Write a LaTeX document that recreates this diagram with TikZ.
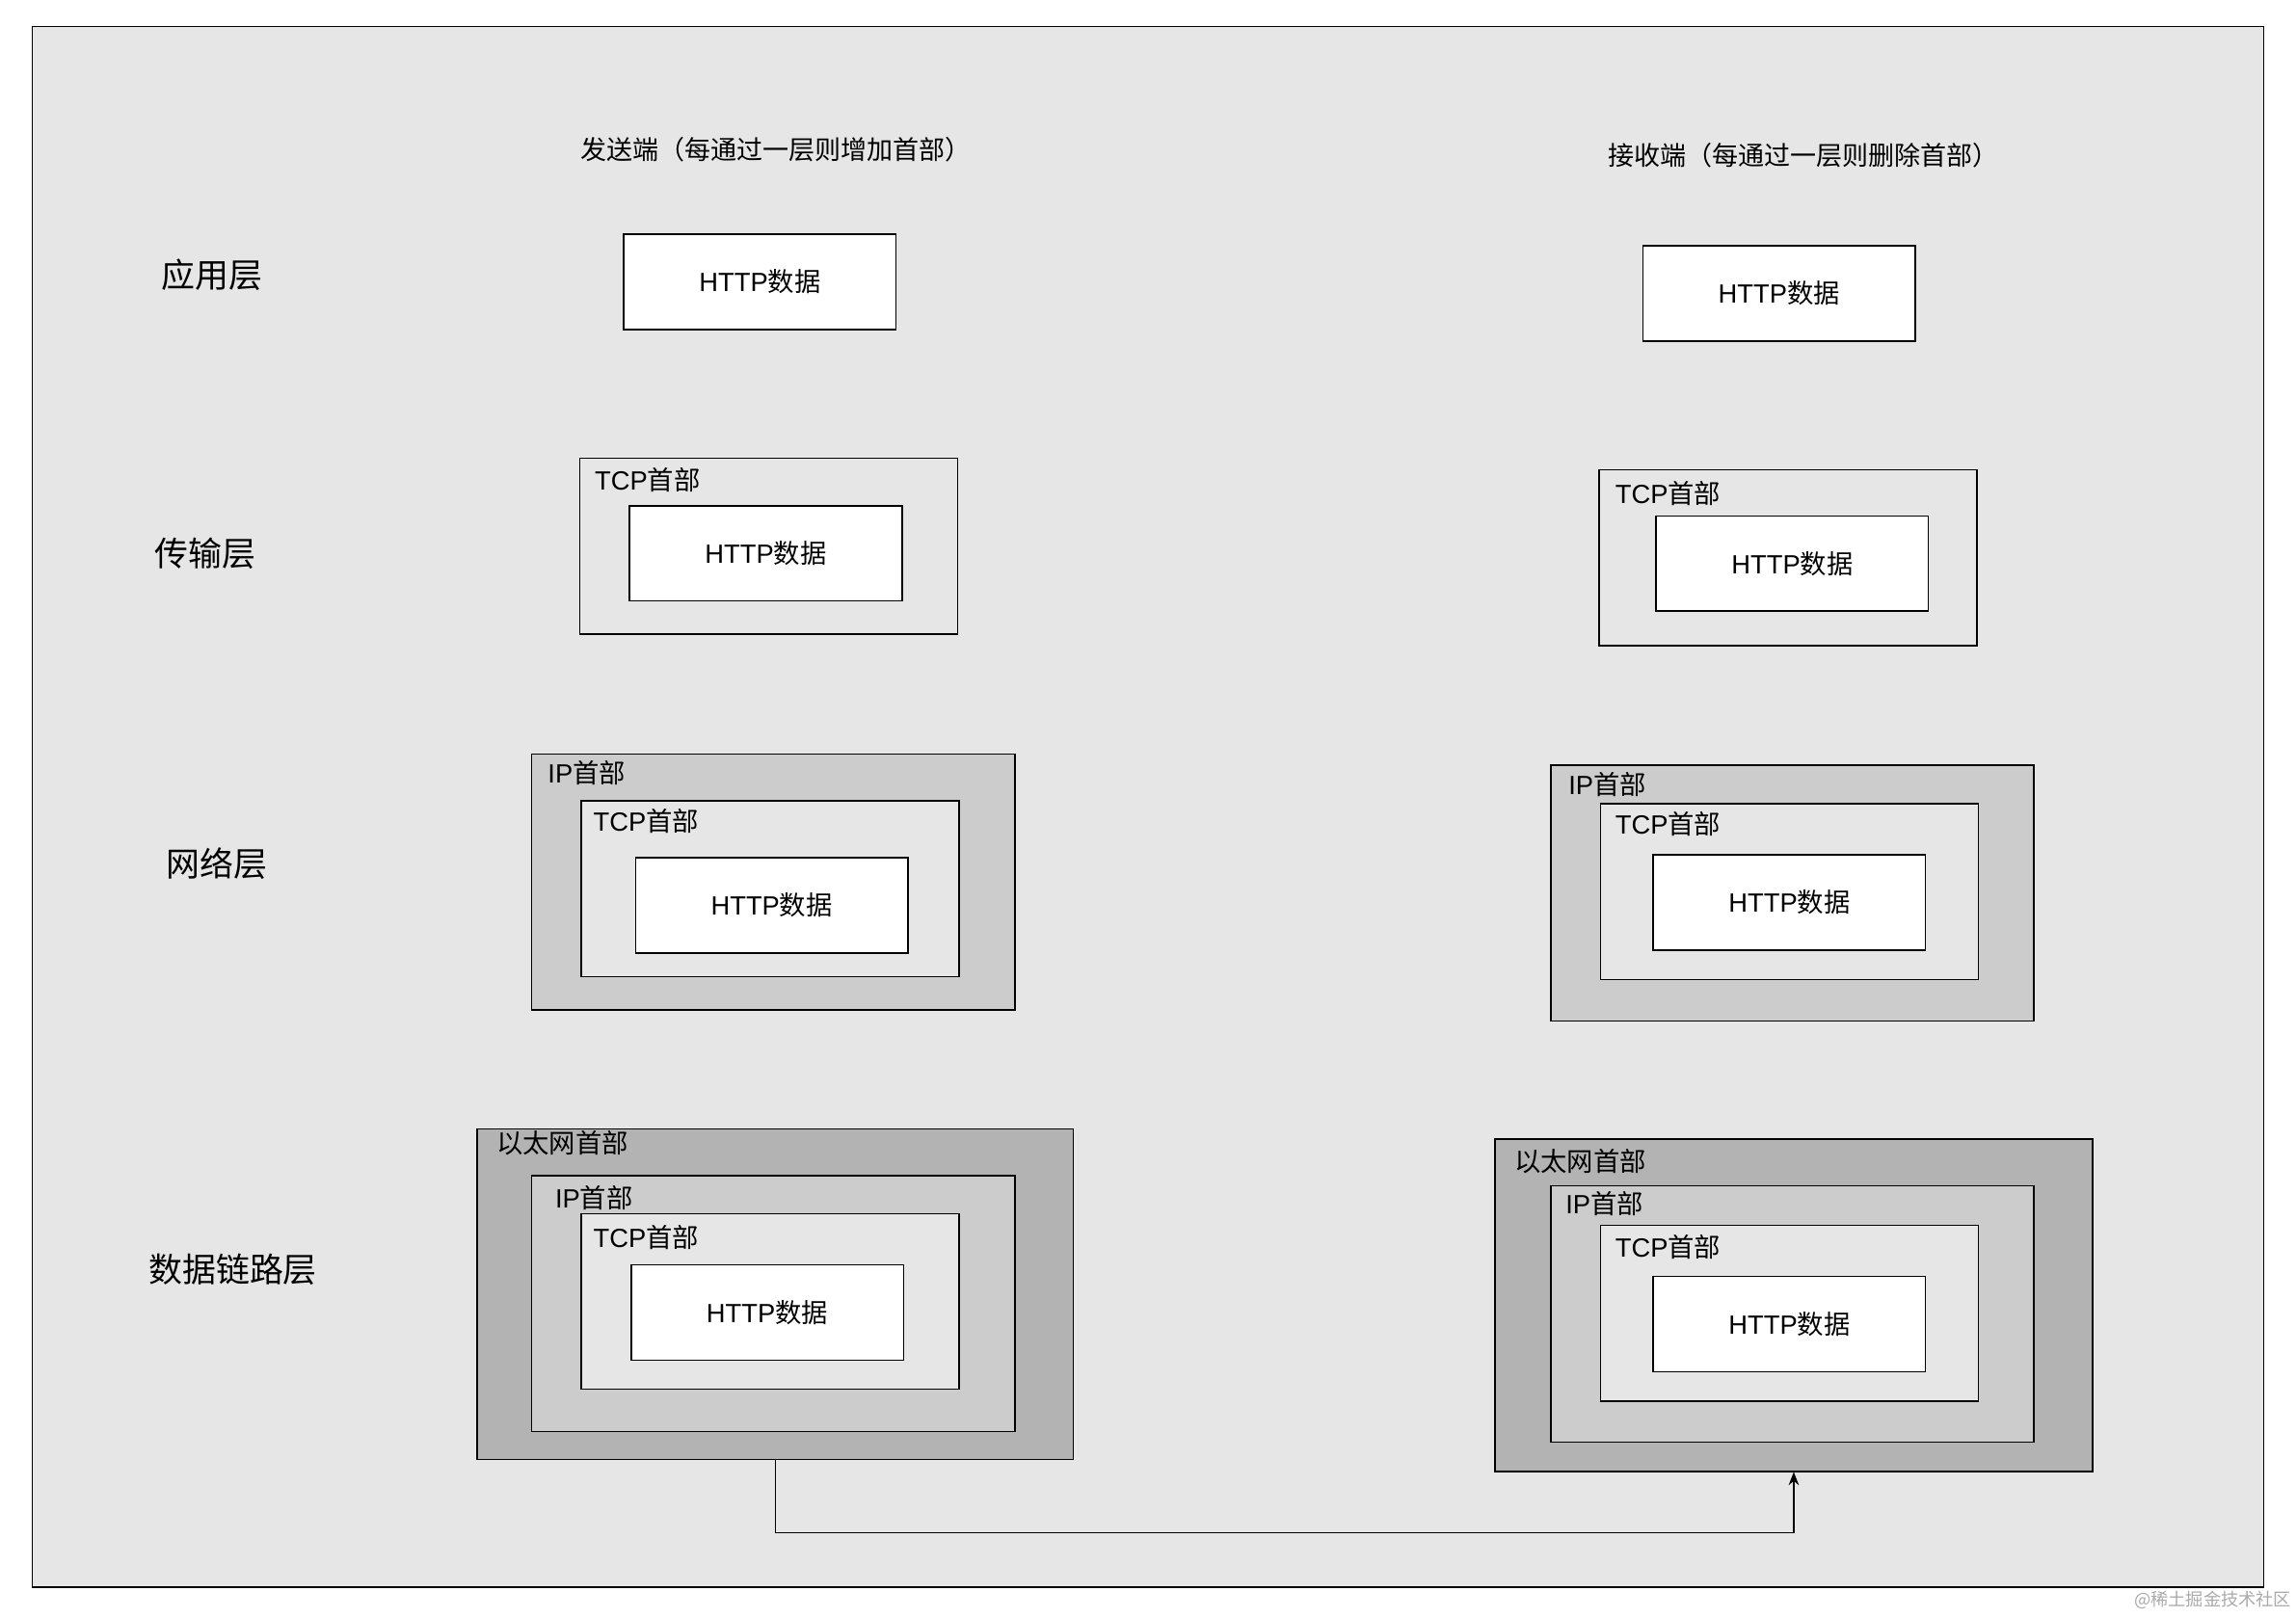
\documentclass[tikz,border=0pt]{standalone}
\usepackage{fontspec}
\setmainfont{Liberation Sans}
\newfontfamily\cjk{Noto Sans CJK SC}
\usetikzlibrary{arrows.meta}
\definecolor{bggray}{HTML}{E6E6E6}
\definecolor{ipgray}{HTML}{CCCCCC}
\definecolor{ethgray}{HTML}{B3B3B3}
\definecolor{markgray}{HTML}{AAAAAA}
\tikzset{
  pkt/.style={draw, line width=1pt, rectangle, inner sep=0pt, font=\fontsize{18}{18}\selectfont},
  http/.style={pkt, fill=white, minimum width=186pt, minimum height=65pt},
  tcp/.style={pkt, fill=bggray, minimum width=258pt, minimum height=120pt},
  ip/.style={pkt, fill=ipgray, minimum width=330pt, minimum height=175pt},
  eth/.style={pkt, fill=ethgray, minimum width=407pt, minimum height=226pt},
  hdr/.style={anchor=west, inner sep=0pt, font=\fontsize{18}{18}\selectfont},
  layer/.style={inner sep=0pt, font=\cjk\fontsize{23}{23}\selectfont},
  side/.style={inner sep=0pt, font=\cjk\fontsize{17.8}{17.8}\selectfont}
}
\begin{document}
\begin{tikzpicture}[x=1pt,y=-1pt]
\useasboundingbox (0,0) rectangle (1568,1104.6);
\draw[line width=1pt, fill=bggray] (22,18) rectangle (1546,1084);
% titles
\node[side] (sendT) at (530,102){发送端（每通过一层则增加首部）};
\node[side] (recvT) at (1231.5,106){接收端（每通过一层则删除首部）};
% layers
\node[layer] (lApp) at (145,188){应用层};
\node[layer] (lTrans) at (140,378){传输层};
\node[layer] (lNet) at (148,590){网络层};
\node[layer] (lLink) at (159,867){数据链路层};
% sender
\node[http] (sHttpA) at (519,192.5){HTTP{\cjk 数据}};
\node[tcp] (sTcpT) at (525,373){};
\node[hdr] (sTcpTh) at (406,328){TCP{\cjk 首部}};
\node[http] (sHttpT) at (523,378){HTTP{\cjk 数据}};
\node[ip] (sIpN) at (528,602.5){};
\node[hdr] (sIpNh) at (374,528){IP{\cjk 首部}};
\node[tcp] (sTcpN) at (526,607){};
\node[hdr] (sTcpNh) at (405,561){TCP{\cjk 首部}};
\node[http] (sHttpN) at (527,618.5){HTTP{\cjk 数据}};
\node[eth] (sEth) at (529.5,884){};
\node[hdr] (sEthh) at (339,781){\cjk 以太网首部};
\node[ip] (sIpL) at (528,890.5){};
\node[hdr] (sIpLh) at (379,818){IP{\cjk 首部}};
\node[tcp] (sTcpL) at (526,889){};
\node[hdr] (sTcpLh) at (405,845){TCP{\cjk 首部}};
\node[http] (sHttpL) at (524,896.5){HTTP{\cjk 数据}};
% receiver
\node[http] (rHttpA) at (1215,200.5){HTTP{\cjk 数据}};
\node[tcp] (rTcpT) at (1221,381){};
\node[hdr] (rTcpTh) at (1103,337){TCP{\cjk 首部}};
\node[http] (rHttpT) at (1224,385){HTTP{\cjk 数据}};
\node[ip] (rIpN) at (1224,610){};
\node[hdr] (rIpNh) at (1071,536){IP{\cjk 首部}};
\node[tcp] (rTcpN) at (1222,609){};
\node[hdr] (rTcpNh) at (1103,563){TCP{\cjk 首部}};
\node[http] (rHttpN) at (1222,616.5){HTTP{\cjk 数据}};
\node[eth, minimum width=408pt, minimum height=227pt] (rEth) at (1225,891.5){};
\node[hdr] (rEthh) at (1034,793){\cjk 以太网首部};
\node[ip] (rIpL) at (1224,897.5){};
\node[hdr] (rIpLh) at (1069,822){IP{\cjk 首部}};
\node[tcp] (rTcpL) at (1222,897){};
\node[hdr] (rTcpLh) at (1103,852){TCP{\cjk 首部}};
\node[http] (rHttpL) at (1222,904.5){HTTP{\cjk 数据}};
% wire
\coordinate (bend) at (529.5,1047);
\draw[line width=1pt, -{Stealth[length=9pt,width=7pt]}] (sEth.south) -- (bend) -| (rEth.south);
\node[anchor=east, inner sep=0pt, text=markgray, font=\cjk\fontsize{12}{12}\selectfont] (mark) at (1565,1093){@稀土掘金技术社区};
\end{tikzpicture}
\end{document}
